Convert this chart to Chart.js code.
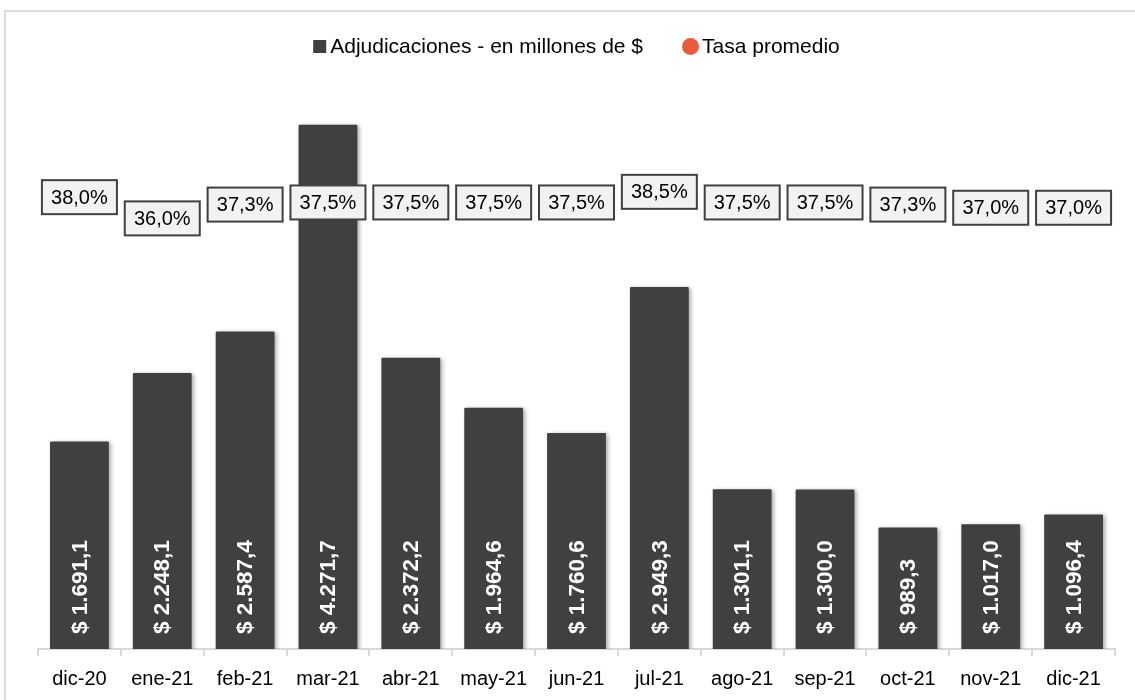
<!DOCTYPE html>
<html>
<head>
<meta charset="utf-8">
<script src="https://cdn.jsdelivr.net/npm/chart.js@4.4.1/dist/chart.umd.min.js"></script>
<style>
  html, body { margin: 0; padding: 0; background: #fff; }
  #wrap { position: relative; width: 1135px; height: 700px; overflow: hidden; }
  #frame { position: absolute; left: 4px; top: 10px; width: 1200px; height: 800px; border: 2px solid #dcdcdc; }
  #myChart { position: absolute; left: 0; top: 0; }
</style>
</head>
<body>
<div id="wrap">
  <div id="frame"></div>
  <canvas id="myChart" width="1135" height="712"></canvas>
</div>
<script>
  const meses = ['dic-20', 'ene-21', 'feb-21', 'mar-21', 'abr-21', 'may-21', 'jun-21',
    'jul-21', 'ago-21', 'sep-21', 'oct-21', 'nov-21', 'dic-21']
  const adjudicaciones = [1691.1, 2248.1, 2587.4, 4271.7, 2372.2, 1964.6, 1760.6,
    2949.3, 1301.1, 1300.0, 989.3, 1017.0, 1096.4]
  const tasa = [38.0, 36.0, 37.3, 37.5, 37.5, 37.5, 37.5, 38.5, 37.5, 37.5, 37.3, 37.0, 37.0]

  const FONT = "'Liberation Sans', Arial, sans-serif"

  // formato es: 1.691,1
  function fmt(v, dec) {
    const parts = v.toFixed(dec).split('.')
    const ent = parts[0].replace(/\B(?=(\d{3})+(?!\d))/g, '.')
    return parts[1] ? ent + ',' + parts[1] : ent
  }

  const barShadow = {
    id: 'barShadow',
    beforeDatasetDraw(chart, args) {
      if (args.index !== 0) return
      const ctx = chart.ctx
      ctx.save()
      ctx.shadowColor = 'rgba(0,0,0,0.35)'
      ctx.shadowBlur = 4
      ctx.shadowOffsetX = 2
      ctx.shadowOffsetY = 1
    },
    afterDatasetDraw(chart, args) {
      if (args.index !== 0) return
      chart.ctx.restore()
    }
  }

  // leyenda tipo Excel: marcador pegado al texto
  const excelLegend = {
    id: 'excelLegend',
    afterDraw(chart) {
      const ctx = chart.ctx
      const ds = chart.data.datasets
      ctx.save()
      ctx.font = '21px ' + FONT
      ctx.textBaseline = 'middle'
      ctx.textAlign = 'left'
      const w0 = ctx.measureText(ds[0].label).width
      const w1 = ctx.measureText(ds[1].label).width
      const total = 13 + 4 + w0 + 39 + 17 + 3 + w1
      const cy = 46.5
      let x = (chart.chartArea.left + chart.chartArea.right) / 2 - total / 2
      ctx.fillStyle = ds[0].backgroundColor
      ctx.fillRect(x, cy - 6.5, 13, 13)
      x += 17
      ctx.fillStyle = '#000000'
      ctx.fillText(ds[0].label, x, cy + 1)
      x += w0 + 39
      ctx.fillStyle = ds[1].backgroundColor
      ctx.beginPath()
      ctx.arc(x + 8.5, cy, 8.5, 0, Math.PI * 2)
      ctx.fill()
      x += 20
      ctx.fillStyle = '#000000'
      ctx.fillText(ds[1].label, x, cy + 1)
      ctx.restore()
    }
  }

  const labels = {
    id: 'labels',
    afterDatasetsDraw(chart) {
      const ctx = chart.ctx
      const base = chart.scales.y.bottom
      // montos dentro de las barras
      chart.getDatasetMeta(0).data.forEach((bar, i) => {
        ctx.save()
        ctx.translate(bar.x, base - 15)
        ctx.rotate(-Math.PI / 2)
        ctx.font = 'bold 22.5px ' + FONT
        ctx.fillStyle = '#ffffff'
        ctx.textAlign = 'left'
        ctx.textBaseline = 'middle'
        ctx.fillText('$ ' + fmt(adjudicaciones[i], 1), 0, 1)
        ctx.restore()
      })
      // tasas en recuadros
      chart.getDatasetMeta(1).data.forEach((pt, i) => {
        const w = 75, h = 34
        ctx.save()
        ctx.fillStyle = '#f2f2f2'
        ctx.strokeStyle = '#404040'
        ctx.lineWidth = 2
        ctx.fillRect(pt.x - w / 2, pt.y - h / 2, w, h)
        ctx.strokeRect(pt.x - w / 2, pt.y - h / 2, w, h)
        ctx.font = '20px ' + FONT
        ctx.fillStyle = '#000000'
        ctx.textAlign = 'center'
        ctx.textBaseline = 'middle'
        ctx.fillText(fmt(tasa[i], 1) + '%', pt.x, pt.y + 1)
        ctx.restore()
      })
    }
  }

  const ctx = document.getElementById('myChart')

  const myChart = new Chart(ctx, {
    type: 'bar',
    data: {
      labels: meses,
      datasets: [{
        label: 'Adjudicaciones - en millones de $',
        data: adjudicaciones,
        backgroundColor: '#404040',
        borderWidth: 0,
        borderRadius: 1,
        barPercentage: 0.71,
        categoryPercentage: 1,
        yAxisID: 'y'
      }, {
        type: 'line',
        label: 'Tasa promedio',
        data: tasa,
        backgroundColor: '#e85a3a',
        borderColor: '#e85a3a',
        showLine: false,
        pointRadius: 0,
        pointHoverRadius: 0,
        yAxisID: 'y2'
      }]
    },
    options: {
      responsive: false,
      animation: false,
      layout: {
        padding: { top: 66, bottom: 10, left: 38, right: 20 }
      },
      scales: {
        x: {
          offset: true,
          grid: {
            offset: true,
            drawOnChartArea: false,
            drawTicks: true,
            tickLength: 7,
            color: '#d9d9d9',
            lineWidth: 2
          },
          border: { color: '#d9d9d9', width: 2 },
          ticks: {
            padding: 11,
            color: '#000000',
            font: { family: FONT, size: 20 },
            maxRotation: 0,
            autoSkip: false
          }
        },
        y: {
          display: false,
          min: 0,
          max: 4750
        },
        y2: {
          display: false,
          min: -4.55,
          max: 50.35
        }
      },
      plugins: {
        legend: { display: false },
        tooltip: { enabled: false }
      }
    },
    plugins: [barShadow, labels, excelLegend]
  })
</script>
</body>
</html>
